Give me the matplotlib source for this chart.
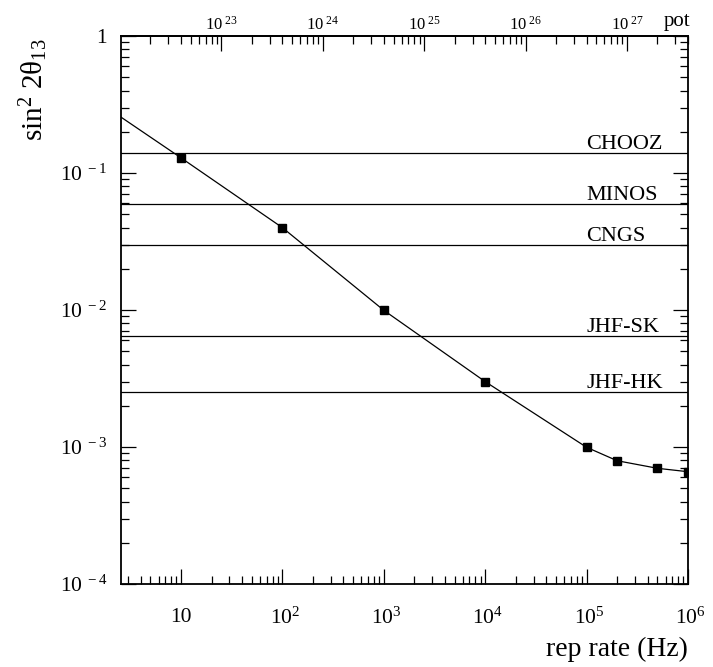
import math
import matplotlib
matplotlib.use("Agg")
import matplotlib.pyplot as plt
from matplotlib.ticker import FuncFormatter, NullFormatter, LogLocator, FixedLocator

plt.rcParams['font.family'] = ['Liberation Serif', 'DejaVu Serif']
plt.rcParams['mathtext.fontset'] = 'custom'
plt.rcParams['mathtext.rm'] = 'Liberation Serif'
plt.rcParams['mathtext.it'] = 'Liberation Serif:italic'
plt.rcParams['mathtext.bf'] = 'Liberation Serif:bold'
plt.rcParams['axes.unicode_minus'] = False

# data
rep_rate = [1, 10, 100, 1000, 1e4, 1e5, 2e5, 5e5, 1e6]
sensitivity = [0.41, 0.129, 0.0399, 0.00995, 0.0030, 0.000995, 0.000794, 0.000699, 0.00066]
exp_names = ['CHOOZ', 'MINOS', 'CNGS', 'JHF-SK', 'JHF-HK']
exp_limits = [0.139, 0.0594, 0.0298, 0.00649, 0.00251]
pot_per_hz = 4e21
pot_major = [1e23, 1e24, 1e25, 1e26, 1e27]
label_x = 1e5

fig = plt.figure(figsize=(7.13, 6.67), dpi=100)
ax = fig.add_axes([121/713, 1 - 584/667, (688-121)/713, (584-36)/667])
ax.set_xscale('log')
ax.set_yscale('log')
ax.set_xlim(2.56, 1e6)
ax.set_ylim(1e-4, 1)

for name, val in zip(exp_names, exp_limits):
    ax.axhline(val, color='black', lw=0.9)
    ax.annotate(name, xy=(label_x, val), xytext=(0, 3), textcoords='offset points',
                ha='left', va='baseline', fontsize=16)

ax.plot(rep_rate, sensitivity, color='black', lw=0.9, marker='s', markersize=5.2,
        markerfacecolor='black', markeredgecolor='black')

for s in ax.spines.values():
    s.set_linewidth(1.3)

def yfmt(v, pos):
    e = int(round(math.log10(v)))
    if e == 0:
        return '1'
    return r'$\mathregular{10^{\ %d}}$' % e

def xfmt(v, pos):
    e = int(round(math.log10(v)))
    if e == 1:
        return '10'
    return r'$\mathregular{\ 10^{%d}}$' % e

def potfmt(v, pos):
    e = int(round(math.log10(v)))
    return r'$\mathregular{10^{\ %d}}$' % e

ax.yaxis.set_major_formatter(FuncFormatter(yfmt))
ax.xaxis.set_major_formatter(FuncFormatter(xfmt))
ax.xaxis.set_minor_formatter(NullFormatter())
ax.yaxis.set_minor_formatter(NullFormatter())
ax.yaxis.set_minor_locator(LogLocator(base=10, subs=range(2, 10), numticks=20))
ax.xaxis.set_minor_locator(LogLocator(base=10, subs=range(2, 10), numticks=20))
ax.tick_params(which='both', direction='in', right=True, top=False, width=0.9, labelsize=15.5)
ax.tick_params(which='major', length=11)
ax.tick_params(which='minor', length=6)
ax.tick_params(axis='x', which='major', pad=17)
ax.tick_params(axis='y', which='major', pad=10)

sec = ax.secondary_xaxis('top', functions=(lambda x: x * pot_per_hz, lambda p: p / pot_per_hz))
sec.xaxis.set_major_locator(FixedLocator(pot_major))
sec.xaxis.set_minor_locator(LogLocator(base=10, subs=range(2, 10), numticks=20))
sec.xaxis.set_major_formatter(FuncFormatter(potfmt))
sec.xaxis.set_minor_formatter(NullFormatter())
sec.tick_params(which='both', direction='in', width=0.9, labelsize=12, pad=2)
sec.tick_params(which='major', length=11)
sec.tick_params(which='minor', length=6)
sec.spines['top'].set_linewidth(1.3)

ax.annotate('pot', xy=(1.0, 1.0), xycoords='axes fraction', xytext=(2, 7),
            textcoords='offset points', ha='right', va='baseline', fontsize=15)

ax.set_xlabel('rep rate (Hz)', loc='right', fontsize=20, labelpad=6)
ax.set_ylabel(r'$\mathregular{sin^{2}\ 2θ_{13}}$', loc='top', fontsize=21)
ax.yaxis.set_label_coords(-0.125, 0.995)

fig.savefig('out.png', dpi=100)
